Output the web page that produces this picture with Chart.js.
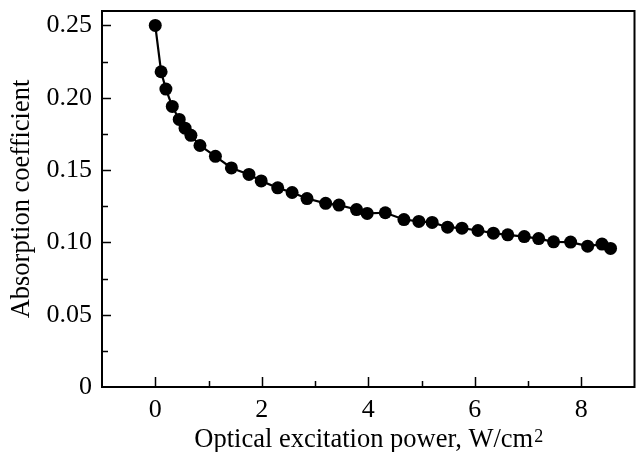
<!DOCTYPE html>
<html>
<head>
<meta charset="utf-8">
<style>
  html, body { margin: 0; padding: 0; background: #fff; }
  #wrap { width: 641px; height: 452px; }
</style>
<script src="https://cdn.jsdelivr.net/npm/chart.js@4/dist/chart.umd.min.js"></script>
</head>
<body>
<div id="wrap"><canvas id="absChart"></canvas></div>
<script>
// power in W/cm^2 and absorption coefficient
const power = [0, 0.11, 0.2, 0.32, 0.45, 0.56, 0.67, 0.84, 1.13, 1.43, 1.76, 1.99, 2.3, 2.57, 2.85, 3.2, 3.45, 3.78, 3.98, 4.32, 4.67, 4.95, 5.2, 5.49, 5.76, 6.06, 6.35, 6.62, 6.93, 7.2, 7.48, 7.8, 8.12, 8.39, 8.55];
const absorption = [0.25, 0.218, 0.206, 0.194, 0.185, 0.179, 0.174, 0.167, 0.1595, 0.1515, 0.147, 0.1425, 0.1377, 0.1345, 0.1303, 0.127, 0.1258, 0.1227, 0.12, 0.1205, 0.1158, 0.1145, 0.1138, 0.1105, 0.1098, 0.1082, 0.1064, 0.1052, 0.104, 0.1026, 0.1004, 0.1002, 0.0974, 0.0988, 0.0958];

const xTicks = [-1, 0, 1, 2, 3, 4, 5, 6, 7, 8, 9];
const xLabelTicks = [0, 2, 4, 6, 8];
const yTicks = [0, 0.025, 0.05, 0.075, 0.1, 0.125, 0.15, 0.175, 0.2, 0.225, 0.25];
const yLabelTicks = [0, 0.05, 0.1, 0.15, 0.2, 0.25];

const serif = '"Liberation Serif", "Times New Roman", serif';

// no automatic label padding, the plot box is fixed by layout.padding
function fixBox(scale) {
    scale.paddingTop = 0;
    scale.paddingBottom = 0;
    scale.paddingLeft = 0;
    scale.paddingRight = 0;
}

// frame, inward tick marks and the x title with a real superscript
const framePlugin = {
    id: 'frame',
    afterDraw(chart) {
        const ctx = chart.ctx;
        const a = chart.chartArea;
        const xs = chart.scales.x;
        const ys = chart.scales.y;
        ctx.save();
        ctx.strokeStyle = '#000';
        ctx.lineWidth = 2;
        ctx.strokeRect(a.left, a.top, a.right - a.left, a.bottom - a.top);

        ctx.lineWidth = 1.5;
        ctx.beginPath();
        xTicks.forEach(v => {
            if (v <= xs.min || v >= xs.max) return;
            const px = Math.round(xs.getPixelForValue(v)) + 0.5;
            const len = xLabelTicks.includes(v) ? 10 : 6;
            ctx.moveTo(px, a.bottom);
            ctx.lineTo(px, a.bottom - len);
        });
        yTicks.forEach(v => {
            if (v <= ys.min || v >= ys.max) return;
            const py = Math.round(ys.getPixelForValue(v)) + 0.5;
            const len = yLabelTicks.some(t => Math.abs(t - v) < 1e-9) ? 9 : 6;
            ctx.moveTo(a.left, py);
            ctx.lineTo(a.left + len, py);
        });
        ctx.stroke();

        // x axis title
        const main = 'Optical excitation power, W/cm';
        ctx.fillStyle = '#000';
        ctx.textBaseline = 'alphabetic';
        ctx.font = '26.5px ' + serif;
        const w1 = ctx.measureText(main).width;
        ctx.font = '18px ' + serif;
        const w2 = ctx.measureText('2').width;
        const startX = (a.left + a.right) / 2 - (w1 + w2) / 2;
        ctx.font = '26.5px ' + serif;
        ctx.fillText(main, startX, 446.5);
        ctx.font = '18px ' + serif;
        ctx.fillText('2', startX + w1 + 1, 441.5);
        ctx.restore();
    }
};

new Chart(document.getElementById('absChart'), {
    type: 'scatter',
    data: {
        datasets: [{
            data: power.map((p, i) => ({ x: p, y: absorption[i] })),
            showLine: true,
            borderColor: '#000',
            borderWidth: 2.2,
            backgroundColor: '#000',
            pointRadius: 6.5,
            pointBorderWidth: 0,
            pointBackgroundColor: '#000'
        }]
    },
    options: {
        responsive: true,
        maintainAspectRatio: false,
        animation: false,
        layout: { padding: { top: 11, right: 5, left: 0, bottom: 0 } },
        plugins: {
            legend: { display: false },
            tooltip: { enabled: false }
        },
        scales: {
            x: {
                type: 'linear',
                min: -1,
                max: 9,
                afterBuildTicks: scale => { scale.ticks = xTicks.map(v => ({ value: v })); },
                afterFit: scale => { scale.height = 65; fixBox(scale); },
                grid: { display: false, drawTicks: false },
                border: { display: false },
                ticks: {
                    autoSkip: false,
                    maxRotation: 0,
                    padding: 8,
                    color: '#000',
                    font: { family: serif, size: 26 },
                    callback: v => xLabelTicks.includes(v) ? String(v) : ''
                }
            },
            y: {
                type: 'linear',
                min: 0,
                max: 0.26,
                afterBuildTicks: scale => { scale.ticks = yTicks.map(v => ({ value: v })); },
                afterFit: scale => { scale.width = 102; fixBox(scale); },
                grid: { display: false, drawTicks: false },
                border: { display: false },
                ticks: {
                    autoSkip: false,
                    padding: 10,
                    color: '#000',
                    font: { family: serif, size: 26 },
                    callback: v => yLabelTicks.some(t => Math.abs(t - v) < 1e-9) ? (v === 0 ? '0' : v.toFixed(2)) : ''
                },
                title: {
                    display: true,
                    text: 'Absorption coefficient',
                    color: '#000',
                    font: { family: serif, size: 26.5 },
                    padding: { top: 6, bottom: 0 }
                }
            }
        }
    },
    plugins: [framePlugin]
});
</script>
</body>
</html>
